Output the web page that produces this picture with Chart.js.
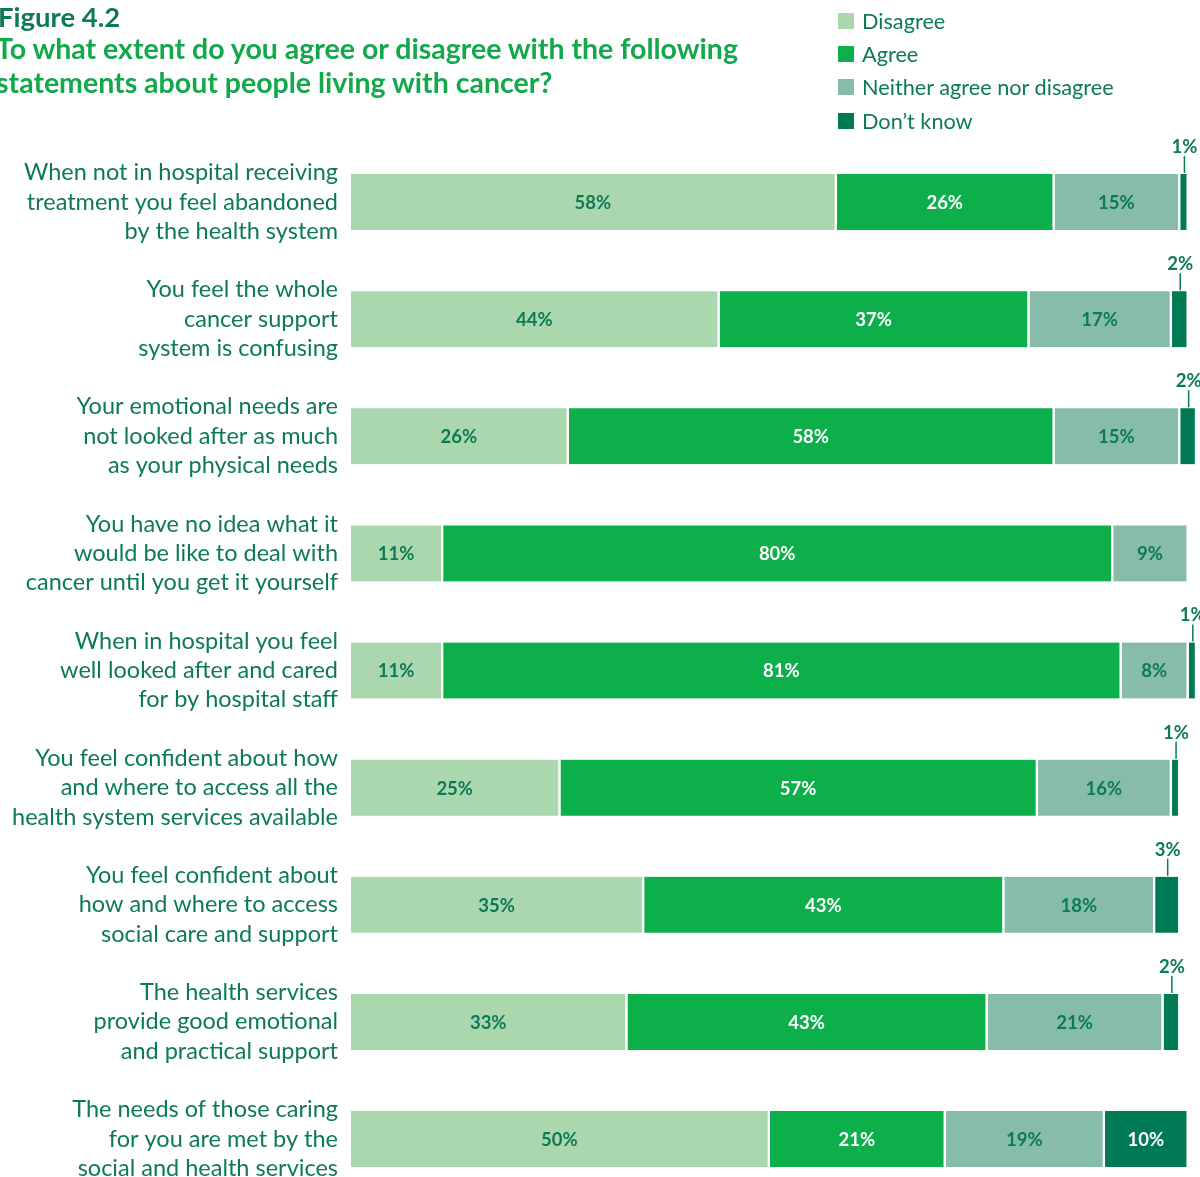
<!DOCTYPE html>
<html>
<head>
<meta charset="utf-8">
<script src="https://cdn.jsdelivr.net/npm/chart.js@4/dist/chart.umd.min.js"></script>
<style>
  html, body { margin: 0; padding: 0; background: #fff; overflow: hidden; }
  #wrap { position: relative; width: 1200px; height: 1177px; }
  #chart { position: absolute; left: 0; top: 0; }
  .fig { position: absolute; left: -2px; top: 0px; font: bold 27.5px Lato, sans-serif; color: #0b7a55; }
  .q { position: absolute; left: -4px; font: bold 28.5px Lato, sans-serif; color: #12a84b; white-space: nowrap; }
  .legend { position: absolute; left: 838px; top: 4px; font: 21.7px Lato, sans-serif; color: #0b7a55; }
  .legend div { height: 33.3px; display: flex; align-items: center; }
  .legend span.sw { display: inline-block; width: 16px; height: 16px; margin-right: 8px; }
</style>
</head>
<body>
<div id="wrap">
  <canvas id="chart" width="1200" height="1177"></canvas>
  <div class="fig">Figure 4.2</div>
  <div class="q" style="top:31px">To what extent do you agree or disagree with the following</div>
  <div class="q" style="top:65px">statements about people living with cancer?</div>
  <div class="legend" id="legend"></div>
</div>
<script>
// Statements (one multi-line label per bar)
const statements = [
  ["When not in hospital receiving", "treatment you feel abandoned", "by the health system"],
  ["You feel the whole", "cancer support", "system is confusing"],
  ["Your emotional needs are", "not looked after as much", "as your physical needs"],
  ["You have no idea what it", "would be like to deal with", "cancer until you get it yourself"],
  ["When in hospital you feel", "well looked after and cared", "for by hospital staff"],
  ["You feel confident about how", "and where to access all the", "health system services available"],
  ["You feel confident about", "how and where to access", "social care and support"],
  ["The health services", "provide good emotional", "and practical support"],
  ["The needs of those caring", "for you are met by the", "social and health services"]
];

// Response shares, percent
const disagree = [58, 44, 26, 11, 11, 25, 35, 33, 50];
const agree    = [26, 37, 58, 80, 81, 57, 43, 43, 21];
const neither  = [15, 17, 15, 9, 8, 16, 18, 21, 19];
const dontKnow = [1, 2, 2, null, 1, 1, 3, 2, 10];

const seriesNames = ["Disagree", "Agree", "Neither agree nor disagree", "Don\u2019t know"];

const colors = ["#abd7ae", "#0daf4b", "#88bcaa", "#007a55"];
const labelColors = ["#0b7a55", "#ffffff", "#0b7a55", "#ffffff"];
const darkText = "#0b7a55";

// HTML legend
const legendEl = document.getElementById('legend');
seriesNames.forEach((name, i) => {
  const row = document.createElement('div');
  row.innerHTML = '<span class="sw" style="background:' + colors[i] + '"></span>' + name;
  legendEl.appendChild(row);
});

const seriesData = [disagree, agree, neither, dontKnow];

// Percent labels: inside each segment, or above with a leader line for thin segments
const segmentLabels = {
  id: 'segmentLabels',
  afterDatasetsDraw(chart) {
    const ctx = chart.ctx;
    ctx.save();
    ctx.textAlign = 'center';
    ctx.textBaseline = 'middle';
    ctx.font = 'bold 18.5px Lato, sans-serif';
    chart.data.datasets.forEach((ds, i) => {
      const meta = chart.getDatasetMeta(i);
      meta.data.forEach((bar, j) => {
        const v = ds.data[j];
        if (v == null) return;
        const p = bar.getProps(['x', 'y', 'base', 'height'], true);
        const cx = (p.x + p.base) / 2;
        const top = p.y - p.height / 2;
        if (v <= 3) {
          ctx.fillStyle = darkText;
          ctx.fillText(v + '%', cx, top - 27);
          ctx.strokeStyle = darkText;
          ctx.lineWidth = 1.5;
          ctx.beginPath();
          ctx.moveTo(cx, top - 18);
          ctx.lineTo(cx, top - 1);
          ctx.stroke();
        } else {
          ctx.fillStyle = labelColors[i];
          ctx.fillText(v + '%', cx - 1, p.y + 1);
        }
      });
    });
    ctx.restore();
  }
};

new Chart(document.getElementById('chart'), {
  type: 'bar',
  data: {
    labels: statements,
    datasets: seriesData.map((d, i) => ({
      label: seriesNames[i],
      data: d,
      backgroundColor: colors[i],
      borderColor: '#ffffff',
      borderWidth: { left: 0, right: 2.5, top: 0, bottom: 0 },
      borderSkipped: false,
      barThickness: 56,
      clip: false
    }))
  },
  options: {
    indexAxis: 'y',
    responsive: false,
    animation: false,
    devicePixelRatio: 1,
    layout: { padding: { left: 0, right: 3, top: 202, bottom: 38 } },
    plugins: { legend: { display: false }, tooltip: { enabled: false } },
    scales: {
      x: {
        stacked: true, min: 0, max: 101, display: false
      },
      y: {
        stacked: true,
        offset: false,
        grid: { display: false, drawTicks: false },
        border: { display: false },
        ticks: {
          padding: 13,
          color: darkText,
          font: { family: 'Lato, sans-serif', size: 23.5, lineHeight: 1.25 }
        },
        afterFit(scale) {
          scale.width = 351;
          scale.paddingTop = 0;
          scale.paddingBottom = 0;
        }
      }
    }
  },
  plugins: [segmentLabels]
});
</script>
</body>
</html>
